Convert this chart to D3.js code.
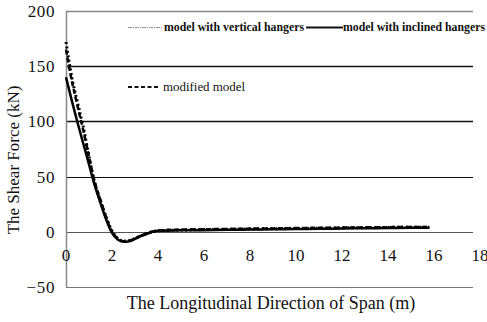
<!DOCTYPE html>
<html>
<head>
<meta charset="utf-8">
<script src="https://cdn.jsdelivr.net/npm/d3@7"></script>
<style>
  body { margin: 0; background: #fff; }
  text { font-family: "Liberation Serif", "Times New Roman", serif; fill: #111; }
</style>
</head>
<body>
<div id="svg-area"></div>
<script>
var svgWidth = 487;
var svgHeight = 322;

// data
var xVals = [0, 0.25, 0.5, 0.75, 1, 1.25, 1.5, 1.75, 2, 2.25, 2.5, 2.75, 3, 3.25, 3.5, 3.75, 4,
  5, 6, 7, 8, 9, 10, 11, 12, 13, 14, 15, 15.8];
var verticalHangers = [172, 140, 117, 95, 68, 44, 28, 13, 1, -6, -8.5, -8, -6, -3.5, -1.5, 0, 1,
  1.6, 2, 2.2, 2.5, 2.8, 3, 3.2, 3.5, 3.8, 4, 4.2, 4.2];
var inclinedHangers = [140, 119, 99, 80, 61, 42, 26, 11, -1, -7, -9, -8.5, -6.5, -4, -2, 0, 1,
  1.3, 1.5, 1.8, 2, 2.3, 2.5, 2.7, 3, 3.2, 3.4, 3.6, 3.6];
var modifiedModel = [165, 137, 114, 92, 68, 45, 29, 13, 0, -6, -8.5, -8, -6, -3.5, -1.5, 0, 1.2,
  2, 2.3, 2.6, 2.9, 3.1, 3.4, 3.6, 3.8, 4, 4.2, 4.4, 4.4];
var xTicks = [0, 2, 4, 6, 8, 10, 12, 14, 16, 18];
var yTicks = [-50, 0, 50, 100, 150, 200];

var svg = d3.select("#svg-area")
  .append("svg")
  .attr("width", svgWidth)
  .attr("height", svgHeight);

var xScale = d3.scaleLinear().domain([0, 18]).range([66, 480]);
var yScale = d3.scaleLinear().domain([-50, 200]).range([287, 11]);
var plotRight = 473;

// horizontal gridlines
var gridStyle = {
  "-50": ["#777", 1], "0": ["#555", 1], "50": ["#111", 1.2],
  "100": ["#111", 1.6], "150": ["#111", 1.6], "200": ["#888", 1.5]
};
svg.selectAll(".grid")
  .data(yTicks)
  .enter().append("line")
  .attr("x1", xScale(0))
  .attr("x2", plotRight)
  .attr("y1", d => Math.round(yScale(d)) + 0.5)
  .attr("y2", d => Math.round(yScale(d)) + 0.5)
  .attr("stroke", d => gridStyle[d][0])
  .attr("stroke-width", d => gridStyle[d][1]);

// left axis line
svg.append("line")
  .attr("x1", xScale(0) + 0.5).attr("x2", xScale(0) + 0.5)
  .attr("y1", yScale(200)).attr("y2", yScale(-50))
  .attr("stroke", "#888")
  .attr("stroke-width", 1.5);

// y tick labels
svg.selectAll(".ylab")
  .data(yTicks)
  .enter().append("text")
  .attr("x", 55)
  .attr("y", d => yScale(d) + 6)
  .attr("text-anchor", "end")
  .style("font-size", "17px")
  .style("letter-spacing", "0.6px")
  .text(d => d < 0 ? "\u2212" + Math.abs(d) : d);

// x tick labels, sitting under the zero line
svg.selectAll(".xlab")
  .data(xTicks)
  .enter().append("text")
  .attr("x", d => xScale(d))
  .attr("y", yScale(0) + 29)
  .attr("text-anchor", "middle")
  .style("font-size", "17px")
  .text(d => d);

// axis titles
svg.append("text")
  .attr("transform", "translate(19,160) rotate(-90)")
  .attr("text-anchor", "middle")
  .style("font-size", "17px")
  .text("The Shear Force (kN)");

svg.append("text")
  .attr("x", 271)
  .attr("y", 309)
  .attr("text-anchor", "middle")
  .style("font-size", "18px")
  .text("The Longitudinal Direction of Span (m)");

// curves
var line = d3.line()
  .x((d, i) => xScale(xVals[i]))
  .y(d => yScale(d))
  .curve(d3.curveMonotoneX);

svg.append("path")
  .attr("d", line(modifiedModel))
  .attr("fill", "none")
  .attr("stroke", "#000")
  .attr("stroke-width", 2.5)
  .attr("stroke-dasharray", "5,3");

svg.append("path")
  .attr("d", line(verticalHangers))
  .attr("fill", "none")
  .attr("stroke", "#000")
  .attr("stroke-width", 3)
  .attr("stroke-dasharray", "2,2.5");

svg.append("path")
  .attr("d", line(inclinedHangers))
  .attr("fill", "none")
  .attr("stroke", "#000")
  .attr("stroke-width", 2.5);

// legend
var legend = svg.append("g");
legend.append("line")
  .attr("x1", 128).attr("x2", 162).attr("y1", 27.5).attr("y2", 27.5)
  .attr("stroke", "#999").attr("stroke-width", 1.2)
  .attr("stroke-dasharray", "4,1,1,1");
legend.append("text")
  .attr("x", 164).attr("y", 31)
  .attr("textLength", 140).attr("lengthAdjust", "spacingAndGlyphs")
  .style("font-size", "12px").style("font-weight", "bold")
  .text("model with vertical  hangers");
legend.append("line")
  .attr("x1", 306).attr("x2", 343).attr("y1", 27.5).attr("y2", 27.5)
  .attr("stroke", "#111").attr("stroke-width", 2);
legend.append("text")
  .attr("x", 343).attr("y", 31)
  .attr("textLength", 142).attr("lengthAdjust", "spacingAndGlyphs")
  .style("font-size", "12px").style("font-weight", "bold")
  .text("model with inclined  hangers");

legend.append("line")
  .attr("x1", 128).attr("x2", 158).attr("y1", 87).attr("y2", 87)
  .attr("stroke", "#111").attr("stroke-width", 2)
  .attr("stroke-dasharray", "4,2.5");
legend.append("text")
  .attr("x", 163).attr("y", 91)
  .attr("textLength", 82).attr("lengthAdjust", "spacingAndGlyphs")
  .style("font-size", "12.5px")
  .text("modified model");
</script>
</body>
</html>
